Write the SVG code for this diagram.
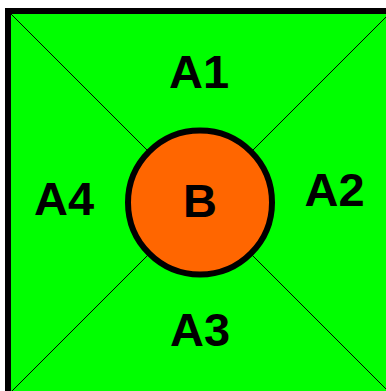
<svg xmlns="http://www.w3.org/2000/svg" width="386" height="391" viewBox="0 0 386 391">
<style>
.lbl{font-family:"Liberation Sans",Arial,sans-serif;font-weight:bold;font-size:47px;fill:#000;text-anchor:middle}
.diag{stroke:#000;stroke-width:1;fill:none}
</style>
<rect width="386" height="391" fill="#fff"/>
<g id="square">
<rect x="8" y="11" width="384" height="384" fill="#00ff00"/>
</g>
<g id="connectors">
<line class="diag" x1="8" y1="11" x2="392" y2="395"/>
<line class="diag" x1="392" y1="11" x2="8" y2="395"/>
</g>
<g id="border">
<rect x="8" y="11" width="384" height="384" fill="none" stroke="#000" stroke-width="6"/>
</g>
<g id="B">
<circle cx="200" cy="202.5" r="72" fill="#ff6600" stroke="#000" stroke-width="6"/>
<text class="lbl" x="200" y="217">B</text>
</g>
<g id="A1"><text class="lbl" x="199" y="88">A1</text></g>
<g id="A2"><text class="lbl" x="334.5" y="206">A2</text></g>
<g id="A3"><text class="lbl" x="200" y="346">A3</text></g>
<g id="A4"><text class="lbl" x="64" y="215">A4</text></g>
</svg>
